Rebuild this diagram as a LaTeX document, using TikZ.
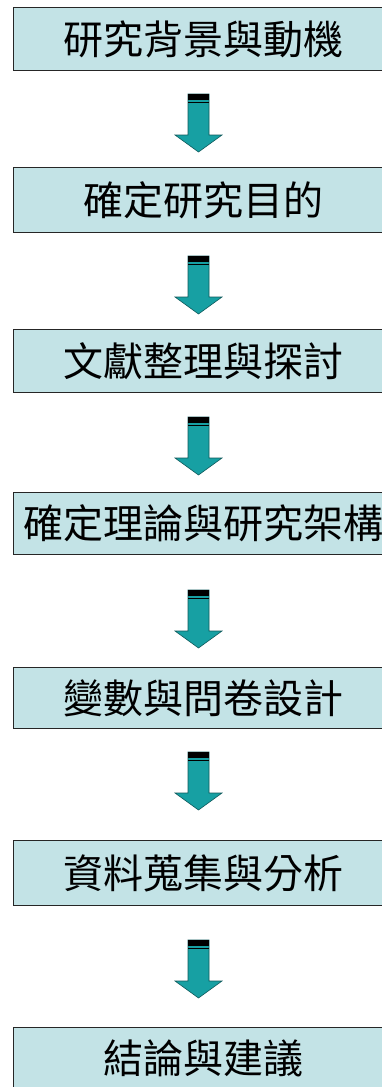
\documentclass[tikz,border=0pt]{standalone}
\usepackage{fontspec}
\newfontfamily\cjk{Noto Sans CJK TC}
\definecolor{boxfill}{HTML}{C3E3E6}
\definecolor{arrfill}{HTML}{17A0A3}
\definecolor{arrline}{HTML}{0F5A5C}
\tikzset{
  stepbox/.style={draw=black!85, line width=1.2pt, fill=boxfill, inner sep=0pt,
    anchor=north west, minimum width=380pt,
    font=\cjk\fontsize{40pt}{40pt}\selectfont},
  downarrow/.pic={
    \filldraw[fill=arrfill, draw=arrline, line width=0.6pt]
      (-10.5,0) -- (10.5,0) -- (10.5,41) -- (23.5,41) -- (0,58) -- (-23.5,41) -- (-10.5,41) -- cycle;
    \fill[black] (-10.5,0) rectangle (10.5,6);
    \draw[black, line width=0.8pt] (-10.5,8.5) -- (10.5,8.5);
  }
}
\begin{document}
\begin{tikzpicture}[x=1pt,y=-1pt]
\fill[white] (0,0) rectangle (382,1087);
\useasboundingbox (0,0) rectangle (382,1087);
\node[stepbox, minimum height=63pt] (b1) at (13,7) {研究背景與動機};
\node[stepbox, minimum height=65pt] (b2) at (13,167) {確定研究目的};
\node[stepbox, minimum height=63pt] (b3) at (13,329) {文獻整理與探討};
\node[stepbox, minimum height=62pt] (b4) at (13,492) {確定理論與研究架構};
\node[stepbox, minimum height=61pt] (b5) at (13,667) {變數與問卷設計};
\node[stepbox, minimum height=65pt] (b6) at (13,840) {資料蒐集與分析};
\node[stepbox, minimum height=62pt] (b7) at (13,1027) {結論與建議};
\pic at (198.5,94) {downarrow};
\pic at (198.5,256) {downarrow};
\pic at (198.5,417) {downarrow};
\pic at (198.5,590) {downarrow};
\pic at (198.5,752) {downarrow};
\pic at (198.5,940) {downarrow};
\end{tikzpicture}
\end{document}
